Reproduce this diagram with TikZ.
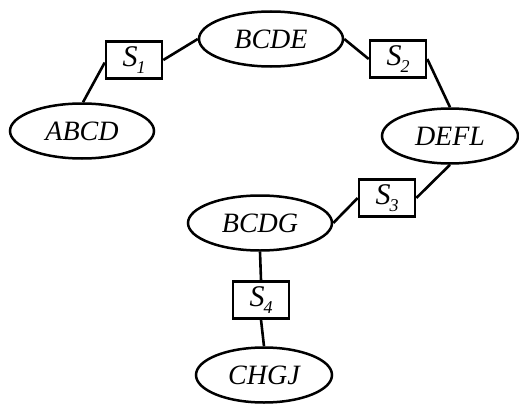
\documentclass[tikz,border=0pt]{standalone}
\usepackage{fontspec}
\setmainfont{Liberation Serif}
\usetikzlibrary{shapes.geometric}
\newcommand{\sepname}[1]{\textit{S}\kern-1pt\raisebox{-7pt}{\fontsize{18}{18}\selectfont\textit{#1}}}
\begin{document}
\begin{tikzpicture}[x=1pt,y=-1pt,
  setnode/.style={ellipse,draw,line width=2.5pt,minimum width=144pt,minimum height=55pt,inner sep=0pt,font=\fontsize{28}{30}\selectfont\itshape},
  sepbox/.style={rectangle,draw,line width=2.6pt,minimum width=56pt,minimum height=37pt,inner sep=0pt,font=\fontsize{30}{32}\selectfont},
  link/.style={line width=2.6pt}]
\useasboundingbox (0,0) rectangle (519,404);
\node[setnode] (BCDE) at (271,39) {BCDE};
\node[setnode] (ABCD) at (82,131) {ABCD};
\node[setnode,minimum width=136pt] (DEFL) at (450,136) {DEFL};
\node[setnode] (BCDG) at (260,223) {BCDG};
\node[setnode,minimum width=136pt] (CHGJ) at (264,375) {CHGJ};
\node[sepbox] (S1) at (134,60) {\sepname{1}};
\node[sepbox] (S2) at (398,59) {\sepname{2}};
\node[sepbox] (S3) at (387,198) {\sepname{3}};
\node[sepbox] (S4) at (261,300) {\sepname{4}};
\draw[link] (ABCD.88) -- (S1.185);
\draw[link] (S1.east) -- (BCDE.west);
\draw[link] (BCDE.east) -- (S2.west);
\draw[link] (S2.east) -- (DEFL.north);
\draw[link] (DEFL.south) -- (S3.east);
\draw[link] (S3.west) -- (BCDG.east);
\draw[link] (BCDG.south) -- (S4.north);
\draw[link] (S4.south) -- (CHGJ.north);
\end{tikzpicture}
\end{document}
